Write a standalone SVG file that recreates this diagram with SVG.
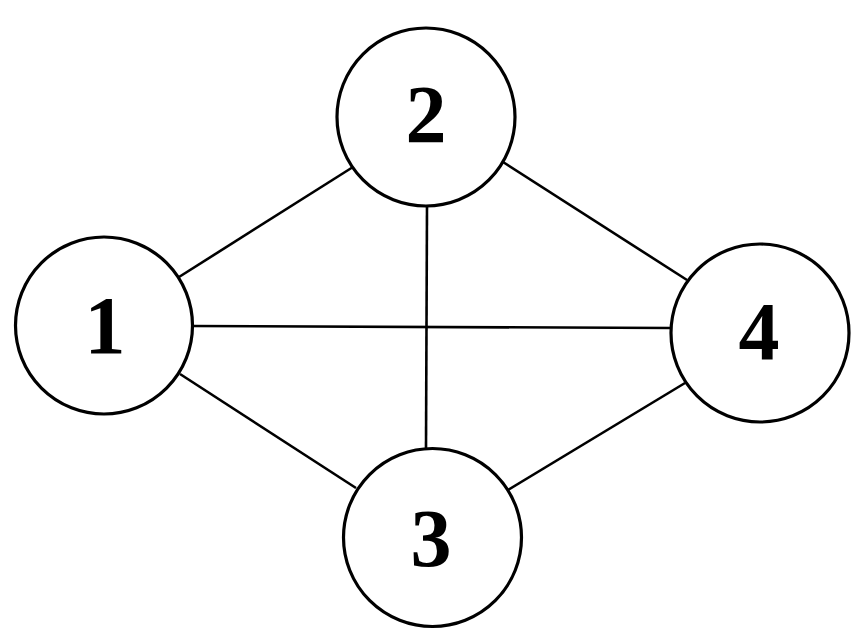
<svg xmlns="http://www.w3.org/2000/svg" width="868" height="644" viewBox="0 0 868 644">
<style>
.edge{stroke:#000;stroke-width:2.6;fill:none}
.node circle{fill:#fff;stroke:#000;stroke-width:3.2}
.node text{font-family:"Liberation Serif","DejaVu Serif",serif;font-weight:bold;font-size:82px;text-anchor:middle;fill:#000}
</style>
<rect width="868" height="644" fill="#fff"/>
<g id="connectors">
<line class="edge" x1="179" y1="277" x2="353" y2="167"/>
<line class="edge" x1="192" y1="326" x2="672" y2="328"/>
<line class="edge" x1="180" y1="374" x2="356" y2="488"/>
<line class="edge" x1="427" y1="206" x2="426" y2="449"/>
<line class="edge" x1="503" y1="162" x2="687" y2="280"/>
<line class="edge" x1="508" y1="490" x2="685" y2="383"/>
</g>
<g id="node1" class="node"><circle cx="104" cy="325.5" r="88.5"/><text x="105" y="353">1</text></g>
<g id="node2" class="node"><circle cx="426" cy="117" r="89"/><text x="426" y="142">2</text></g>
<g id="node3" class="node"><circle cx="432.5" cy="537.5" r="89"/><text x="431" y="566">3</text></g>
<g id="node4" class="node"><circle cx="760" cy="333" r="89"/><text x="759" y="359">4</text></g>
</svg>
